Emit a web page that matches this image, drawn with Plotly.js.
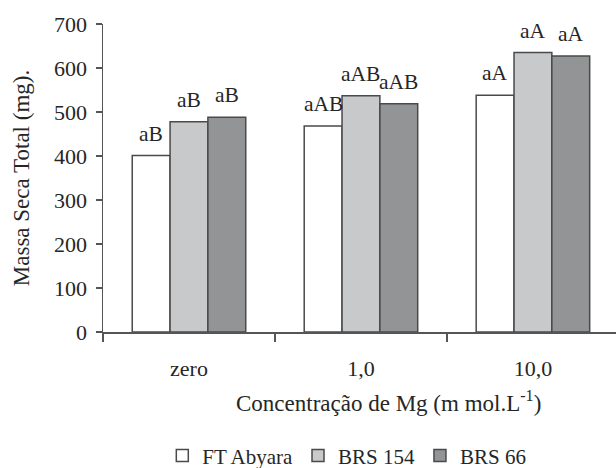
<!DOCTYPE html>
<html><head><meta charset="utf-8">
<script src="https://cdn.plot.ly/plotly-3.0.1.min.js"></script>
<style>body{margin:0;background:#fff}#c{width:616px;height:468px}</style>
</head><body><div id="c"></div>
<script>
const categories = ["zero", "1,0", "10,0"];
const seriesNames = ["FT Abyara", "BRS 154", "BRS 66"];
const ftAbyara = [401, 468, 538];
const brs154 = [478, 537, 635];
const brs66 = [488, 519, 627];
const ftLabels = ["aB", "aAB", "aA"];
const brs154Labels = ["aB", "aAB", "aA"];
const brs66Labels = ["aB", "aAB", "aA"];
const yTicks = [0, 100, 200, 300, 400, 500, 600, 700];

const colors = ["#ffffff", "#c8c9cb", "#939496"];
const values = [ftAbyara, brs154, brs66];
const labels = [ftLabels, brs154Labels, brs66Labels];
const FONT = "Liberation Serif, Times New Roman, serif";
const TXT = "#262626";

const W = 616, H = 468;
const M = {l: 103, r: 0, t: 24, b: 135.5};
const xRange = [-0.5, 2.483];
const BARGAP = 0.34;
const plotW = W - M.l - M.r;
const catPx = plotW / (xRange[1] - xRange[0]);
const barPx = catPx * (1 - BARGAP) / values.length;

const data = values.map((v, i) => ({
  type: "bar",
  name: seriesNames[i],
  x: categories,
  y: v,
  marker: {color: colors[i], line: {color: "#4a4a4a", width: 1.5}},
  hoverinfo: "none"
}));

const annotations = [];
values.forEach((v, i) => {
  v.forEach((val, j) => {
    annotations.push({
      xref: "x", yref: "y", x: categories[j], y: val,
      text: labels[i][j], showarrow: false,
      xanchor: "center", yanchor: "bottom",
      xshift: (i - (values.length - 1) / 2) * barPx,
      yshift: 8,
      font: {family: FONT, size: 21.5, color: TXT}
    });
  });
});
annotations.push({
  xref: "paper", yref: "paper", x: 0.5556, y: -0.225,
  xanchor: "center", yanchor: "middle", showarrow: false,
  text: "Concentração de Mg (m mol.L<sup>-1</sup>)",
  font: {family: FONT, size: 23, color: TXT}
});

const layout = {
  width: W, height: H,
  margin: M,
  paper_bgcolor: "#fff", plot_bgcolor: "#fff",
  font: {family: FONT, size: 22, color: TXT},
  barmode: "group",
  bargap: BARGAP,
  bargroupgap: 0,
  showlegend: true,
  legend: {orientation: "h", x: 0.563, xanchor: "center", xref: "container", y: 0.026, yanchor: "middle", yref: "container",
           font: {family: FONT, size: 21, color: TXT}, itemwidth: 30, tracegroupgap: 0},
  annotations: annotations,
  xaxis: {
    type: "category",
    range: xRange,
    showline: true, linecolor: "#555", linewidth: 1.5,
    ticks: "outside", ticklen: 8, tickcolor: "#555", tickwidth: 1.5,
    tickson: "boundaries",
    showgrid: false, zeroline: false,
    automargin: false,
    tickfont: {family: FONT, size: 22, color: TXT},
    ticklabelstandoff: 16
  },
  yaxis: {
    range: [0, 700],
    tickvals: yTicks,
    showline: true, linecolor: "#555", linewidth: 1.5,
    ticks: "outside", ticklen: 6, tickcolor: "#555", tickwidth: 1.5,
    showgrid: false, zeroline: false,
    automargin: false,
    tickfont: {family: FONT, size: 22, color: TXT},
    ticklabelstandoff: 4,
    title: {text: "Massa Seca Total (mg).", font: {family: FONT, size: 23, color: TXT}, standoff: 18}
  }
};

Plotly.newPlot("c", data, layout, {displayModeBar: false, staticPlot: true});
</script>
</body></html>
